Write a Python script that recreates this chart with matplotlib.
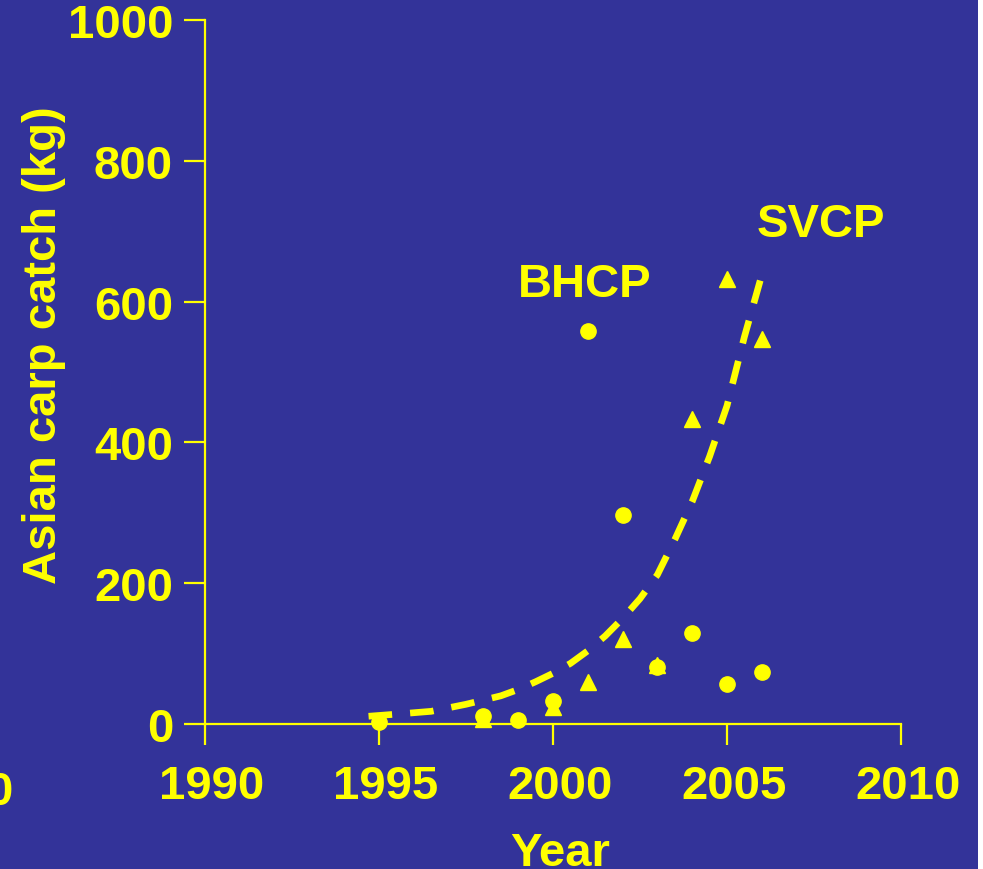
import matplotlib
matplotlib.use("Agg")
import matplotlib.pyplot as plt
import matplotlib.transforms as mtransforms
from matplotlib.patches import Rectangle

# colours
bg = "#333399"
fg = "#ffff00"

# BHCP catch (circles)
bhcp_years = [1995, 1998, 1999, 2000, 2001, 2002, 2003, 2004, 2005, 2006]
bhcp_catch = [3, 11, 5, 33, 558, 297, 81, 129, 57, 74]

# SVCP catch (triangles)
svcp_years = [1998, 2000, 2001, 2002, 2003, 2004, 2005, 2006]
svcp_catch = [7, 24, 60, 121, 84, 433, 632, 547]

# dashed trend curve
trend_years = [1994.7, 1995.5, 1996.5, 1997.5, 1998.5, 1999.0, 1999.5, 2000.0,
               2000.5, 2001.0, 2001.5, 2002.0, 2002.5, 2003.0, 2003.5, 2004.0,
               2004.5, 2005.0, 2005.5, 2006.0]
trend_catch = [11, 14, 18, 28, 40, 49, 60, 72, 86, 104, 125, 150, 178, 212,
               262, 316, 380, 452, 550, 638]

x_ticks = [1990, 1995, 2000, 2005, 2010]
y_ticks = [0, 200, 400, 600, 800, 1000]

plt.rcParams["font.family"] = ["Liberation Sans", "DejaVu Sans"]
plt.rcParams["font.weight"] = "bold"
plt.rcParams["lines.scale_dashes"] = False

fig = plt.figure(figsize=(9.83, 8.70), dpi=100, facecolor=bg)
ax = fig.add_axes([205 / 983, 1 - 725 / 870, 696 / 983, 704 / 870])
ax.set_facecolor(bg)

ax.plot(trend_years, trend_catch, color=fg, lw=4.8, dashes=(17, 13),
        solid_capstyle="butt", dash_capstyle="butt", clip_on=False, zorder=3)
ax.plot(bhcp_years, bhcp_catch, "o", color=fg, ms=11, clip_on=False, zorder=4)
ax.plot(svcp_years, svcp_catch, "^", color=fg, ms=11.5, clip_on=False, zorder=4)

ax.text(2000.9, 625, "BHCP", color=fg, fontsize=34, fontweight="bold",
        ha="center", va="center")
ax.text(2007.7, 710, "SVCP", color=fg, fontsize=34, fontweight="bold",
        ha="center", va="center")

ax.set_xlim(1990, 2010)
ax.set_ylim(0, 1000)
ax.set_xticks(x_ticks)
ax.set_yticks(y_ticks)

for side in ["top", "right"]:
    ax.spines[side].set_visible(False)
for side in ["left", "bottom"]:
    ax.spines[side].set_color(fg)
    ax.spines[side].set_linewidth(1.6)

ax.tick_params(axis="both", colors=fg, labelcolor=fg, labelsize=34,
               width=1.6, length=15, direction="out")
ax.tick_params(axis="x", pad=14)
ax.tick_params(axis="y", pad=8)

# x tick labels sit a little right of their ticks
shift = mtransforms.ScaledTranslation(7 / 100, 0, fig.dpi_scale_trans)
for lab in ax.get_xticklabels():
    lab.set_transform(lab.get_transform() + shift)
    lab.set_fontweight("bold")
for lab in ax.get_yticklabels():
    lab.set_fontweight("bold")

ax.set_xlabel("Year", color=fg, fontsize=34, fontweight="bold")
ax.xaxis.set_label_coords(0.51, -0.183)
ax.xaxis.label.set_verticalalignment("center")
ax.set_ylabel("Asian carp catch (kg)", color=fg, fontsize=34, fontweight="bold")
ax.yaxis.set_label_coords(-0.232, 0.54)
ax.yaxis.label.set_verticalalignment("center")

# stray cut-off label at the left edge
fig.text(12 / 983, 1 - 793 / 870, "0", color=fg, fontsize=34,
         fontweight="bold", ha="right", va="center")

# thin white strip on the right edge
fig.patches.append(Rectangle((978 / 983, 0), 5 / 983, 1, transform=fig.transFigure,
                             facecolor="white", edgecolor="none"))

fig.savefig("out.png", dpi=100, facecolor=bg)
